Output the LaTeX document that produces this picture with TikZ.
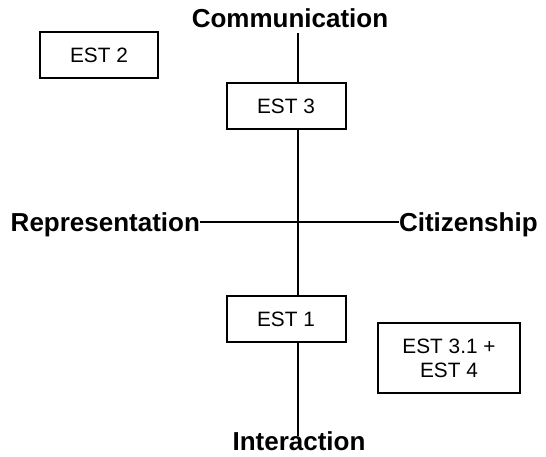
\documentclass[tikz,border=0pt]{standalone}
\usepackage{fontspec}
\setmainfont{Liberation Sans}
\begin{document}
\begin{tikzpicture}[x=1pt,y=-1pt,
  estbox/.style={draw, line width=2pt, fill=white, inner sep=0pt, outer sep=0pt,
    align=center, font=\fontsize{20.8}{24}\selectfont},
  axislabel/.style={inner sep=0pt, outer sep=0pt, font=\fontsize{26}{30}\selectfont\bfseries},
  axis/.style={line width=2pt}]
\useasboundingbox (0,0) rectangle (546,456);

% axis end points and crossing
\coordinate (top) at (298,33);
\coordinate (bot) at (298,436);
\coordinate (cross) at (298,222);

% axis labels
\node[axislabel, anchor=base] (comm) at (290,27) {Communication};
\node[axislabel, anchor=base] (inter) at (299,450) {Interaction};
\node[axislabel, anchor=base east] (repr) at (200,231) {Representation};
\node[axislabel, anchor=base west] (citi) at (399,231) {Citizenship};

% boxes
\node[estbox, minimum width=118pt, minimum height=46pt] (est2) at (99,55) {EST 2};
\node[estbox, minimum width=119pt, minimum height=46pt] (est3) at (286,106) {EST 3};
\node[estbox, minimum width=119pt, minimum height=46pt] (est1) at (286,319) {EST 1};
\node[estbox, minimum width=142pt, minimum height=70pt] (est31) at (449,358) {EST 3.1 +\\EST 4};

% axes
\draw[axis] (top) -- (top |- est3.north);
\draw[axis] (top |- est3.south) -- (top |- est1.north);
\draw[axis] (top |- est1.south) -- (bot);
\draw[axis] (repr.east |- cross) -- (citi.west |- cross);
\end{tikzpicture}
\end{document}
